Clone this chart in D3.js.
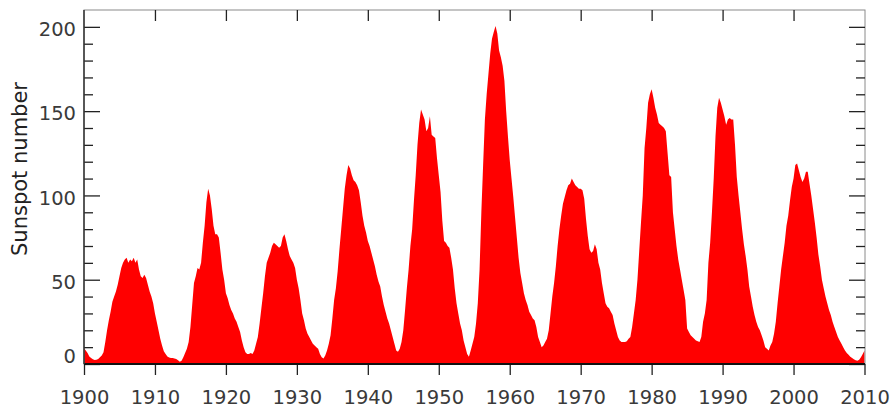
<!DOCTYPE html>
<meta charset="utf-8">
<style>
  body { margin: 0; background: #fff; }
  svg { display: block; }
  .area { fill: #ff0000; }
  .frame { fill: none; stroke: #8a8a8a; stroke-width: 1; }
  .tick line { stroke: #222; stroke-width: 1.3; }
  .tick text { fill: #3a3a3a; font-size: 19.5px; font-family: "DejaVu Sans", sans-serif; }
</style>

<svg width="893" height="410"></svg>

<script src="https://d3js.org/d3.v7.min.js"></script>
<script>

  // smoothed sunspot number, every quarter (Jan, Apr, Jul, Oct)
  var startYear = 1900;
  var step = 0.25;
  var sunspots = [
    9.3, 8, 6.5, 4.5,        // 1900
    3.5, 2.8, 2.4, 2.5,
    3, 4, 5, 7,
    13, 20, 26, 31,
    37, 40, 43, 47,
    52, 57, 60, 62,
    63, 60, 62, 61,
    63, 60, 62, 56,
    52, 51, 53, 51,
    47, 43, 40, 36,
    30, 25, 20, 15,          // 1910
    11, 7.5, 6, 4.5,
    3.8, 3.5, 3.5, 3.3,
    3, 2.2, 1.4, 2,
    4, 6.5, 9, 13,
    22, 35, 48, 52,
    57, 56, 60, 72,
    82, 96, 104, 100,
    92, 82, 77, 77,
    75, 66, 56, 50,
    42, 39, 35, 32,          // 1920
    30, 27, 25, 22,
    19, 14, 10, 7,
    6, 6, 6.5, 6,
    8, 12, 16, 24,
    33, 42, 52, 60,
    63, 66, 70, 72,
    71, 70, 69, 70,
    75, 77, 73, 68,
    64, 62, 60, 57,
    50, 45, 38, 30,          // 1930
    26, 21, 18, 16,
    14, 12, 11, 10,
    9, 6, 4, 3.3,
    5, 8, 12, 17,
    27, 38, 45, 55,
    68, 80, 92, 104,
    112, 118, 116, 112,
    109, 108, 106, 103,
    96, 88, 82, 78,
    73, 70, 66, 62,          // 1940
    58, 53, 49, 46,
    40, 35, 31, 27,
    24, 20, 16, 12,
    8, 7.3, 9, 13,
    20, 32, 45, 56,
    70, 80, 97, 112,
    130, 143, 151, 148,
    145, 138, 140, 147,
    136, 135, 134, 122,
    112, 102, 85, 73,        // 1950
    72, 70, 69, 63,
    56, 45, 36, 30,
    24, 20, 14, 10,
    6, 4.3, 8, 12,
    16, 24, 36, 56,
    90, 118, 145, 160,
    172, 184, 193, 197,
    200.5, 196, 186, 182,
    177, 168, 150, 135,
    121, 110, 99, 87,        // 1960
    75, 63, 54, 48,
    42, 38, 35, 31,
    29, 27, 26, 22,
    16, 13, 10, 11,
    13, 15, 20, 30,
    40, 48, 58, 70,
    80, 88, 95, 99,
    103, 106, 107, 110,
    108, 106, 105, 104,
    104, 103, 98, 86,        // 1970
    76, 68, 66, 67,
    71, 68, 60, 56,
    48, 42, 36, 34,
    33, 31, 29, 24,
    20, 16, 14, 13,
    13, 13, 13.5, 15,
    16, 22, 30, 38,
    50, 67, 84, 100,
    128, 140, 155, 160,
    163, 158, 152, 148,      // 1980
    143, 142, 141, 140,
    138, 125, 112, 111,
    90, 80, 70, 62,
    56, 50, 44, 38,
    21, 19, 17, 16,
    15, 14, 13.5, 13,
    16, 25, 30, 38,
    60, 72, 90, 110,
    135, 152, 158, 155,
    151, 147, 142, 145,      // 1990
    146, 145, 145, 130,
    111, 100, 90, 80,
    71, 64, 56, 46,
    40, 34, 29, 25,
    22, 20, 17, 14,
    10, 9, 8, 11,
    13, 18, 25, 36,
    46, 56, 64, 72,
    82, 88, 97, 105,
    110, 118, 119, 115,      // 2000
    111, 108, 110, 114,
    114, 107, 100, 92,
    84, 75, 65, 58,
    50, 45, 40, 36,
    32, 29, 25, 22,
    19, 16, 14, 12,
    10, 8, 6.5, 5.5,
    4.3, 3.5, 2.8, 2.2,
    1.9, 2.5, 4, 6,
    8                        // 2010
  ];

  var decades = [1900, 1910, 1920, 1930, 1940, 1950, 1960, 1970, 1980, 1990, 2000, 2010];
  var yMajor = [0, 50, 100, 150, 200];
  var yMinor = [10, 20, 30, 40, 60, 70, 80, 90, 110, 120, 130, 140, 160, 170, 180, 190];

  var svg = d3.select("svg");
  var plotLeft = 84, plotRight = 865, plotTop = 10, plotBottom = 364;

  var x = d3.scaleLinear().domain([1900, 2010]).range([plotLeft, plotRight - 0.5]);
  var y = d3.scaleLinear().domain([0, 210]).range([plotBottom, plotTop]);

  var data = sunspots.map(function (v, i) {
    return { year: startYear + i * step, value: v };
  });

  // red filled area
  var area = d3.area()
    .x(function (d) { return x(d.year); })
    .y0(y(0))
    .y1(function (d) { return y(d.value); });

  svg.append("path")
    .datum(data)
    .attr("class", "area")
    .attr("d", area);

  // frame
  svg.append("rect")
    .attr("class", "frame")
    .attr("x", plotLeft)
    .attr("y", plotTop)
    .attr("width", plotRight - plotLeft)
    .attr("height", plotBottom - plotTop);

  // ticks pointing inward on the left
  svg.append("g")
    .attr("transform", "translate(" + plotLeft + ",0)")
    .call(d3.axisRight(y).tickValues(yMajor).tickSize(16).tickFormat(""))
    .select(".domain").remove();
  svg.append("g")
    .attr("transform", "translate(" + plotLeft + ",0)")
    .call(d3.axisRight(y).tickValues(yMinor).tickSize(9).tickFormat(""))
    .select(".domain").remove();

  // and on the right
  svg.append("g")
    .attr("transform", "translate(" + plotRight + ",0)")
    .call(d3.axisLeft(y).tickValues(yMajor).tickSize(16).tickFormat(""))
    .select(".domain").remove();
  svg.append("g")
    .attr("transform", "translate(" + plotRight + ",0)")
    .call(d3.axisLeft(y).tickValues(yMinor).tickSize(9).tickFormat(""))
    .select(".domain").remove();

  // y labels
  var yLab = svg.append("g")
    .attr("transform", "translate(" + (plotLeft - 8) + ",0)")
    .call(d3.axisLeft(y).tickValues(yMajor).tickSize(0).tickPadding(0));
  yLab.select(".domain").remove();
  yLab.selectAll("text")
    .attr("dy", function (d) { return d === 0 ? "-0.1em" : "0.45em"; });

  // top ticks
  svg.append("g")
    .attr("transform", "translate(0," + plotTop + ")")
    .call(d3.axisBottom(x).tickValues(decades.slice(1, -1)).tickSize(11).tickFormat(""))
    .select(".domain").remove();

  // bottom axis, ticks outward
  var xAxis = svg.append("g")
    .attr("transform", "translate(0," + plotBottom + ")")
    .call(d3.axisBottom(x).tickValues(decades).tickSize(11).tickPadding(15).tickFormat(d3.format("d")));
  xAxis.select(".domain").remove();

  // thick baseline and left edge
  svg.append("line")
    .attr("x1", plotLeft).attr("x2", plotRight)
    .attr("y1", plotBottom).attr("y2", plotBottom)
    .attr("stroke", "#111").attr("stroke-width", 2);
  svg.append("line")
    .attr("x1", plotLeft).attr("x2", plotLeft)
    .attr("y1", plotTop).attr("y2", plotBottom)
    .attr("stroke", "#333").attr("stroke-width", 1.5);

  // axis title
  svg.append("text")
    .attr("transform", "translate(27,169) rotate(-90)")
    .attr("text-anchor", "middle")
    .attr("fill", "#222")
    .attr("font-family", "'DejaVu Sans', sans-serif")
    .attr("font-size", "21px")
    .text("Sunspot number");

</script>
